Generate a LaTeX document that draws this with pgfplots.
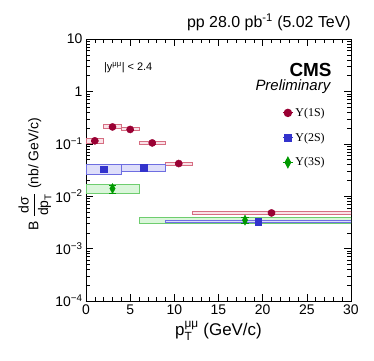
\documentclass[border=0pt]{standalone}
\usepackage{fontspec}
\setmainfont{Liberation Sans}
\newfontfamily\serifY{Liberation Serif}
\usepackage{amsmath}
\usepackage{pgfplots}
\pgfplotsset{compat=1.18}

\definecolor{c1}{RGB}{153,0,51}
\definecolor{c1f}{RGB}{250,226,232}
\definecolor{c1e}{RGB}{214,110,130}
\definecolor{c2}{RGB}{51,51,204}
\definecolor{c2f}{RGB}{222,222,250}
\definecolor{c2e}{RGB}{110,110,225}
\definecolor{c3}{RGB}{0,153,0}
\definecolor{c3f}{RGB}{218,246,218}
\definecolor{c3e}{RGB}{110,205,110}

% systematic box: style, xlo, xhi, ylo, yhi
\newcommand{\sysbox}[5]{\addplot[forget plot, #1, line width=0.8pt] coordinates {(#2,#4) (#3,#4) (#3,#5) (#2,#5)} -- cycle;}

\begin{document}
\begin{tikzpicture}
\begin{axis}[
  name=ax,
  scale only axis,
  width=265bp, height=262bp,
  xmin=0, xmax=30,
  ymode=log, ymin=1e-4, ymax=10,
  xtick={0,5,...,30},
  xticklabels={0,5,10,15,20,25,30},
  minor x tick num=4,
  ytick={1e-4,1e-3,1e-2,1e-1,1,10},
  yticklabels={10\textsuperscript{−4},10\textsuperscript{−3},10\textsuperscript{−2},10\textsuperscript{−1},1,10},
  tick align=inside,
  xtick pos=both, ytick pos=both,
  major tick length=7bp, minor tick length=4bp,
  tick style={black, line width=0.5pt},
  axis line style={line width=0.8pt},
  ticklabel style={font=\fontsize{14}{14}\selectfont},
  xlabel={p$^{\text{μμ}}_{\text{T}}$ (GeV/c)},
  xlabel style={font=\fontsize{17}{17}\selectfont},
  ylabel={B $\dfrac{\text{dσ}}{\text{dp}_{\text{T}}}$ (nb/ GeV/c)},
  ylabel style={font=\fontsize{14}{14}\selectfont, xshift=-4bp, yshift=-3bp},
  legend style={draw=none, fill=none, at={(axis description cs:0.74,0.745)}, anchor=north west,
    font=\serifY\fontsize{12}{12}\selectfont, row sep=11bp, inner sep=0pt},
  legend cell align=left,
  legend image code/.code={\draw[mark repeat=2,mark phase=2,#1] plot coordinates {(0bp,0bp) (5bp,0bp) (10bp,0bp)};},
  legend image post style={sharp plot, line width=1.2pt},
]
% systematic boxes
\sysbox{fill=c1f, draw=c1e}{0}{2}{0.103}{0.126}
\sysbox{fill=c1f, draw=c1e}{2}{4}{0.193}{0.230}
\sysbox{fill=c1f, draw=c1e}{4}{6}{0.177}{0.205}
\sysbox{fill=c1f, draw=c1e}{6}{9}{0.0953}{0.112}
\sysbox{fill=c1f, draw=c1e}{9}{12}{0.039}{0.0451}
\sysbox{fill=c1f, draw=c1e}{12}{30}{0.00445}{0.00508}
\sysbox{fill=c2f, draw=c2e}{0}{4}{0.0262}{0.0403}
\sysbox{fill=c2f, draw=c2e}{4}{9}{0.0303}{0.0407}
\sysbox{fill=c3f, draw=c3e}{0}{6}{0.0115}{0.0169}
\sysbox{fill=c3f, draw=c3e}{6}{30}{0.00303}{0.00395}
\sysbox{fill=c2f, draw=c2e}{9}{30}{0.0031}{0.0035}

% points with stat. errors
\addplot[only marks, mark=*, mark size=3.6bp, color=c1,
  error bars/.cd, y dir=both, y explicit]
  table[x=x, y=y, y error=e] {
x y e
1 0.114 0.004
3 0.21 0.006
5 0.188 0.006
7.5 0.104 0.004
10.5 0.042 0.002
21 0.0048 0.0003
};
\addplot[only marks, mark=square*, mark size=3.4bp, color=c2,
  error bars/.cd, y dir=both, y explicit]
  table[x=x, y=y, y error=e] {
x y e
2 0.0327 0.002
6.5 0.0352 0.002
19.5 0.0033 0.0003
};
\addplot[only marks, mark=diamond*, mark size=3.6bp, mark options={yscale=1.4}, color=c3,
  error bars/.cd, y dir=both, y explicit]
  table[x=x, y=y, y error=e] {
x y e
3 0.014 0.0024
18 0.0035 0.0004
};
\legend{Υ(1S),Υ(2S),Υ(3S)}

\node[anchor=west, font=\fontsize{11}{11}\selectfont] at (rel axis cs:0.055,0.889) {|y$^{\text{μμ}}$| < 2.4};
\node[anchor=east, font=\bfseries\fontsize{19}{19}\selectfont] at (rel axis cs:0.94,0.882) {CMS};
\node[anchor=east, font=\itshape\fontsize{15}{15}\selectfont] at (rel axis cs:0.935,0.817) {Preliminary};
\end{axis}
\node[anchor=base east, inner sep=0pt, font=\fontsize{16}{16}\selectfont] at ([yshift=11bp]ax.north east) {pp 28.0 pb\textsuperscript{-1} (5.02 TeV)};
\pgfresetboundingbox
\path ([shift={(-86bp,-60bp)}]ax.south west) rectangle ([shift={(23bp,39bp)}]ax.north east);
\end{tikzpicture}
\end{document}
